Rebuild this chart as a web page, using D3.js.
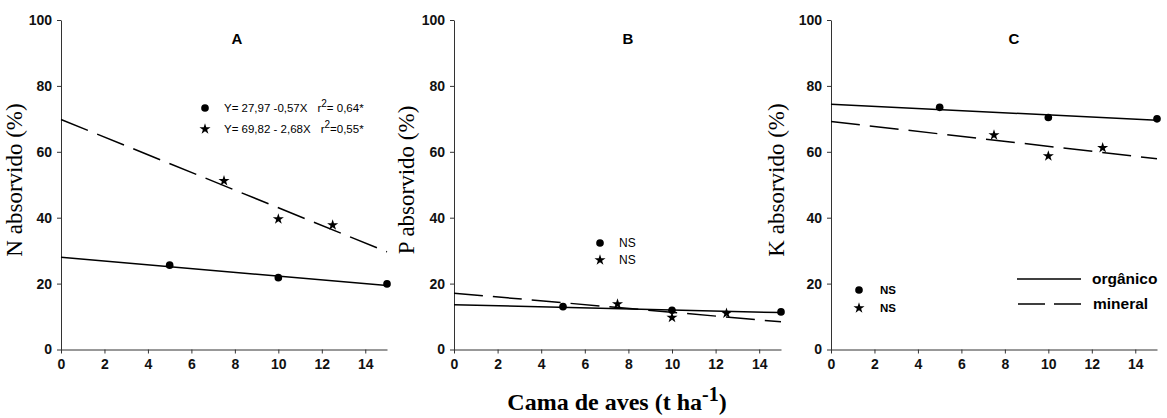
<!DOCTYPE html>
<html><head><meta charset="utf-8">
<script src="https://cdn.jsdelivr.net/npm/d3@7"></script>
<style>body{margin:0;background:#fff}svg{display:block}
.tick text{font-family:'Liberation Sans',Arial,sans-serif !important;font-weight:bold !important;font-size:14px !important;}
</style>
</head><body>
<svg id="c" width="1167" height="418"></svg>
<script>
// ---- data ----
const panelLetters = ["A", "B", "C"];
const nutrients = ["N", "P", "K"];
const xTicks = [0, 2, 4, 6, 8, 10, 12, 14];
const yTicks = [0, 20, 40, 60, 80, 100];
const orgDoses = [5, 10, 15];
const minDoses = [7.5, 10, 12.5];
const fitX = [0, 15];
const orgA = [25.6, 21.8, 19.9];
const minA = [51.2, 39.6, 37.8];
const orgB = [13.0, 11.9, 11.4];
const minB = [13.8, 9.7, 11.0];
const orgC = [73.5, 70.4, 70.0];
const minC = [65.1, 58.7, 61.2];
const orgFitA = [27.97, 19.42];
const minFitA = [69.82, 29.62];
const orgFitB = [13.6, 11.2];
const minFitB = [17.1, 8.4];
const orgFitC = [74.4, 69.6];
const minFitC = [69.2, 57.9];
const eqA = ["Y= 27,97 -0,57X", "Y= 69,82 - 2,68X"];
const r2A = ["= 0,64*", "=0,55*"];

const svg = d3.select("#c");
const sans = "'Liberation Sans', Arial, sans-serif";
const serif = "'Liberation Serif', 'Times New Roman', serif";
const xRanges = [[61, 387], [454, 781], [831, 1157]];
const yScale = d3.scaleLinear().domain([0, 100]).range([349.5, 20]);
const orgSeries = [orgA, orgB, orgC], minSeries = [minA, minB, minC];
const orgFits = [orgFitA, orgFitB, orgFitC], minFits = [minFitA, minFitB, minFitC];
const circle = d3.symbol().type(d3.symbolCircle).size(46);
const star = d3.symbol().type(d3.symbolStar).size(38);

panelLetters.forEach((L, i) => {
  const x = d3.scaleLinear().domain([0, 15]).range(xRanges[i]);
  const g = svg.append("g");
  const ya = g.append("g").attr("transform", `translate(${xRanges[i][0]},0)`)
    .call(d3.axisLeft(yScale).tickValues(yTicks).tickSize(4).tickSizeOuter(0).tickPadding(5));
  const xa = g.append("g").attr("transform", `translate(0,${yScale(0)})`)
    .call(d3.axisBottom(x).tickValues(xTicks).tickSize(4).tickSizeOuter(0).tickPadding(6));
  [ya, xa].forEach(a => {
    a.attr("font-family", sans).attr("font-size", 14).attr("font-weight", "bold");
    a.selectAll("text").attr("fill", "#111");
    a.selectAll("path,line").attr("stroke", "#333");
  });
  // axis title
  g.append("text").attr("transform", `translate(${[22, 414, 784][i]},180) rotate(-90)`)
    .attr("text-anchor", "middle").style("font-family", serif)
    .style("font-size", "23px").text(nutrients[i] + " absorvido (%)");
  // panel letter
  g.append("text").attr("x", [237, 628, 1014][i]).attr("y", 44).attr("text-anchor", "middle")
    .style("font-family", sans).style("font-weight", "bold")
    .style("font-size", "15px").text(L);
  const line = d3.line().x((d, k) => x(fitX[k])).y(d => yScale(d));
  g.append("path").datum(orgFits[i]).attr("d", line).attr("fill", "none").attr("stroke", "#000").attr("stroke-width", 1.5);
  g.append("path").datum(minFits[i]).attr("d", line).attr("fill", "none").attr("stroke", "#000")
    .attr("stroke-width", 1.5).attr("stroke-dasharray", "29,10");
  g.selectAll(".o").data(orgSeries[i]).enter().append("path")
    .attr("d", circle).attr("transform", (d, k) => `translate(${x(orgDoses[k])},${yScale(d)})`).attr("fill", "#000");
  g.selectAll(".s").data(minSeries[i]).enter().append("path")
    .attr("d", star).attr("transform", (d, k) => `translate(${x(minDoses[k])},${yScale(d)})`).attr("fill", "#000");
});

// legend A
[0, 1].forEach(k => {
  const yy = [108, 129][k];
  svg.append("path").attr("d", k ? star() : circle()).attr("transform", `translate(205,${yy})`);
  const t = svg.append("text").attr("x", 224).attr("y", yy + 4).style("font-family", sans).style("font-size", "11.5px");
  t.append("tspan").text(eqA[k]);
  t.append("tspan").attr("dx", 10).text("r");
  t.append("tspan").attr("dy", -5).style("font-size", "10px").text("2");
  t.append("tspan").attr("dy", 5).text(r2A[k]);
});
// legend B
[0, 1].forEach(k => {
  const yy = [243, 260][k];
  svg.append("path").attr("d", k ? star() : circle()).attr("transform", `translate(600,${yy})`);
  svg.append("text").attr("x", 619).attr("y", yy + 4).style("font-family", sans).style("font-size", "12px").text("NS");
});
// legend C
[0, 1].forEach(k => {
  const yy = [290, 308][k];
  svg.append("path").attr("d", k ? star() : circle()).attr("transform", `translate(859,${yy})`);
  svg.append("text").attr("x", 880).attr("y", yy + 4).style("font-family", sans).style("font-weight", "bold").style("font-size", "11.5px").text("NS");
});
svg.append("line").attr("x1", 1017).attr("x2", 1081).attr("y1", 279).attr("y2", 279).attr("stroke", "#000").attr("stroke-width", 1.5);
svg.append("line").attr("x1", 1018).attr("x2", 1081).attr("y1", 304).attr("y2", 304).attr("stroke", "#000").attr("stroke-width", 1.5).attr("stroke-dasharray", "27,9");
svg.append("text").attr("x", 1092).attr("y", 284).style("font-family", sans).style("font-weight", "bold").style("font-size", "15.5px").text("orgânico");
svg.append("text").attr("x", 1093).attr("y", 309).style("font-family", sans).style("font-weight", "bold").style("font-size", "15.5px").text("mineral");

// x-axis title
const xt = svg.append("text").attr("x", 617).attr("y", 410).attr("text-anchor", "middle")
  .style("font-family", serif).style("font-weight", "bold").style("font-size", "24px");
xt.append("tspan").text("Cama de aves (t ha");
xt.append("tspan").attr("dy", -9).style("font-size", "20px").text("-1");
xt.append("tspan").attr("dy", 9).text(")");
</script>
</body></html>
